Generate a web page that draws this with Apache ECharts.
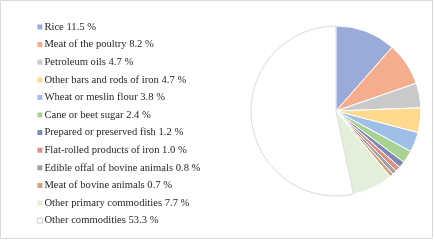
<!DOCTYPE html>
<html><head><meta charset="utf-8">
<script src="https://cdn.jsdelivr.net/npm/echarts@6/dist/echarts.min.js"></script>
<style>html,body{margin:0;padding:0;background:#fff}#c{width:434px;height:244px}</style>
</head><body><div id="c"></div>
<script>
var categories = ["Rice","Meat of the poultry","Petroleum oils","Other bars and rods of iron","Wheat or meslin flour","Cane or beet sugar","Prepared or preserved fish","Flat-rolled products of iron","Edible offal of bovine animals","Meat of bovine animals","Other primary commodities","Other commodities"];
var values = [11.5, 8.2, 4.7, 4.7, 3.8, 2.4, 1.2, 1.0, 0.8, 0.7, 7.7, 53.3];
var colors = ["#9babd9","#f5ad8f","#c9c9c9","#ffd98e","#a0bfe7","#a8d192","#7f88b0","#d9938b","#a0a0a0","#c9a37d","#e3efda","#ffffff"];

var chart = echarts.init(document.getElementById('c'), null, {renderer:'canvas'});
var last = categories.length - 1;
var data = categories.map(function(n,i){
  return {name:n, value:values[i], itemStyle:{color:colors[i], borderColor: i===last ? '#d9d9d9' : '#ffffff', borderWidth:1}};
});
var legendData = categories.map(function(n,i){
  return i===last ? {name:n, itemStyle:{color:'#ffffff', borderColor:'#bfbfbf', borderWidth:0.8}} : {name:n, itemStyle:{borderWidth:0}};
});
chart.setOption({
  animation:false,
  graphic:[{type:'rect', shape:{x:0.5,y:0.5,width:432,height:238}, style:{fill:'none', stroke:'#d9d9d9', lineWidth:1}, silent:true}],
  legend:{
    orient:'vertical', left:32, top:16, itemWidth:5, itemHeight:5, itemGap:5.6, icon:'rect',
    data:legendData,
    textStyle:{fontFamily:'Liberation Serif', fontSize:10.6, color:'#262626', lineHeight:12, padding:[0,0,0,-3]},
    formatter:function(n){ var i=categories.indexOf(n); return n+' '+values[i].toFixed(1)+' %'; }
  },
  series:[{
    type:'pie', center:[336,111], radius:85, startAngle:90, clockwise:true,
    label:{show:false}, labelLine:{show:false}, silent:true, avoidLabelOverlap:false,
    data:data
  }]
});
</script></body></html>
